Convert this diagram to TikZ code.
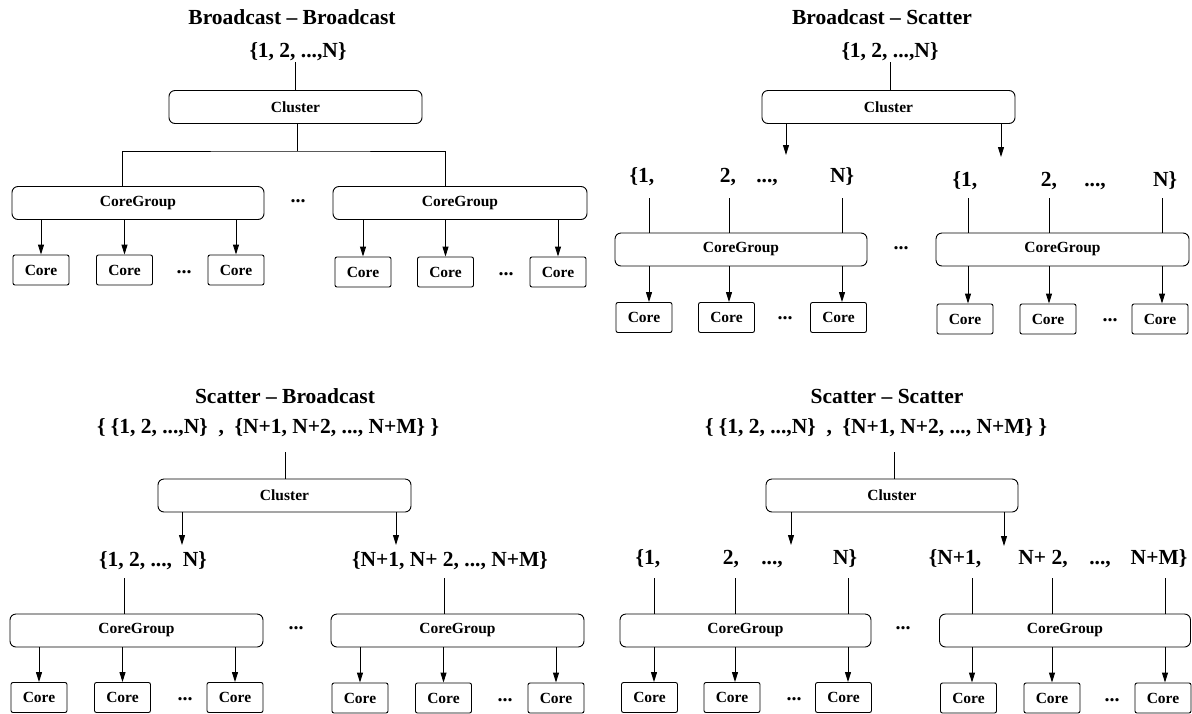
\documentclass[tikz,border=0pt]{standalone}
\usepackage{fontspec}
\setmainfont{Liberation Serif}
\usetikzlibrary{arrows.meta}
\begin{document}
\begin{tikzpicture}[x=1pt,y=-1pt,line width=0.9pt,
  big/.style={font=\fontsize{21.5}{25}\selectfont\bfseries, inner sep=0pt, anchor=base},
  small/.style={font=\fontsize{15.5}{18}\selectfont\bfseries},
  grp/.style={draw, rounded corners=6pt, minimum height=33pt, small, inner sep=0pt},
  corebox/.style={draw, rounded corners=2pt, minimum width=56pt, minimum height=30pt, small, inner sep=0pt},
  dots/.style={font=\fontsize{20}{22}\selectfont\bfseries, inner sep=0pt},
  arr/.style={-{Triangle[length=10pt,width=6pt]}}]
\useasboundingbox (0,0) rectangle (1192,713);

% ================= Panel 1: Broadcast - Broadcast =================
\node[big] (t1) at (292,24) {Broadcast -- Broadcast};
\node[big] (s1) at (298,57) {\{1, 2, ...,N\}};
\node[grp, minimum width=253pt] (cl1) at (295.5,107) {Cluster};
\node[grp, minimum width=252pt] (cg11) at (138,203) {CoreGroup};
\node[grp, minimum width=254pt] (cg12) at (460,203) {CoreGroup};
\node[dots] (d1) at (298,201) {...};
\draw (cl1.north) -- ++(0,-28);
\coordinate (j1) at (297,151);
\draw (cl1.south -| j1) -- (j1);
\draw (cg11.north -| 122,0) |- (j1) -| (cg12.north -| 445,0);
\node[corebox] (c11) at (41,270) {Core};
\node[corebox] (c12) at (124.5,270) {Core};
\node[corebox] (c13) at (236,270) {Core};
\node[corebox] (c14) at (363,272) {Core};
\node[corebox] (c15) at (445.5,272) {Core};
\node[corebox] (c16) at (558,272) {Core};
\node[dots] (d11) at (184,272) {...};
\node[dots] (d12) at (506,274) {...};
\foreach \c/\g in {c11/cg11,c12/cg11,c13/cg11,c14/cg12,c15/cg12,c16/cg12}
  \draw[arr] (\g.south -| \c.north) -- (\c.north);

% ================= Panel 2: Broadcast - Scatter =================
\node[big] (t2) at (882,24) {Broadcast -- Scatter};
\node[big] (s2) at (890,57) {\{1, 2, ...,N\}};
\node[grp, minimum width=253pt] (cl2) at (888.5,107) {Cluster};
\draw (cl2.north -| 890,0) -- ++(0,-28);
\coordinate (a21) at (786,155);
\coordinate (a22) at (1001,157);
\draw[arr] (cl2.south -| a21) -- (a21);
\draw[arr] (cl2.south -| a22) -- (a22);
\node[big] (l21) at (642,182) {\{1,};
\node[big] (l22) at (728,182) {2,};
\node[big] (l23) at (767,182) {...,};
\node[big] (l24) at (842,182) {N\}};
\node[big] (l25) at (965,186) {\{1,};
\node[big] (l26) at (1049,186) {2,};
\node[big] (l27) at (1095,186) {...,};
\node[big] (l28) at (1165,186) {N\}};
\node[grp, minimum width=252pt] (cg21) at (741,249.5) {CoreGroup};
\node[grp, minimum width=253pt] (cg22) at (1062.5,249.5) {CoreGroup};
\node[dots] (d2) at (901,248) {...};
\node[corebox] (c21) at (644,317.5) {Core};
\node[corebox] (c22) at (726.5,317.5) {Core};
\node[corebox] (c23) at (838.5,317.5) {Core};
\node[corebox] (c24) at (965,319) {Core};
\node[corebox] (c25) at (1048,319) {Core};
\node[corebox] (c26) at (1160,319) {Core};
\node[dots] (d21) at (785,318) {...};
\node[dots] (d22) at (1110,320) {...};
\foreach \x/\g/\c in {649/cg21/c21,729/cg21/c22,842/cg21/c23,968/cg22/c24,1049/cg22/c25,1162/cg22/c26}{
  \draw (\g.north -| \x,0) -- ++(0,-35);
  \draw[arr] (\g.south -| \x,0) -- (\c.north -| \x,0);
}

% ================= Panel 3: Scatter - Broadcast =================
\node[big] (t3) at (285,403) {Scatter -- Broadcast};
\node[big] (s3) at (268,433) {\{ \{1, 2, ...,N\}\ \ ,\ \ \{N+1, N+2, ..., N+M\} \}};
\node[grp, minimum width=253pt] (cl3) at (284.5,495.5) {Cluster};
\draw (cl3.north -| 285,0) -- ++(0,-27);
\coordinate (a31) at (182,545);
\coordinate (a32) at (396,545);
\draw[arr] (cl3.south -| a31) -- (a31);
\draw[arr] (cl3.south -| a32) -- (a32);
\node[big] (l31) at (153,566) {\{1, 2, ...,\ \ N\}};
\node[big] (l32) at (450,566) {\{N+1, N+ 2, ..., N+M\}};
\node[grp, minimum width=253pt] (cg31) at (136.5,630.5) {CoreGroup};
\node[grp, minimum width=253pt] (cg32) at (457.5,630.5) {CoreGroup};
\node[dots] (d3) at (296,628) {...};
\draw (cg31.north -| 124,0) -- ++(0,-36);
\draw (cg32.north -| 444,0) -- ++(0,-36);
\node[corebox] (c31) at (39,697.5) {Core};
\node[corebox] (c32) at (122.5,697.5) {Core};
\node[corebox] (c33) at (235,697.5) {Core};
\node[corebox] (c34) at (360,698) {Core};
\node[corebox] (c35) at (443.5,698) {Core};
\node[corebox] (c36) at (556,698) {Core};
\node[dots] (d31) at (185,699) {...};
\node[dots] (d32) at (505,700) {...};
\foreach \c/\g in {c31/cg31,c32/cg31,c33/cg31,c34/cg32,c35/cg32,c36/cg32}
  \draw[arr] (\g.south -| \c.north) -- (\c.north);

% ================= Panel 4: Scatter - Scatter =================
\node[big] (t4) at (887,403) {Scatter -- Scatter};
\node[big] (s4) at (876,433) {\{ \{1, 2, ...,N\}\ \ ,\ \ \{N+1, N+2, ..., N+M\} \}};
\node[grp, minimum width=252pt] (cl4) at (892,495.5) {Cluster};
\draw (cl4.north -| 894,0) -- ++(0,-27);
\coordinate (a41) at (791,545);
\coordinate (a42) at (1004,546);
\draw[arr] (cl4.south -| a41) -- (a41);
\draw[arr] (cl4.south -| a42) -- (a42);
\node[big] (l41) at (648,564) {\{1,};
\node[big] (l42) at (731,564) {2,};
\node[big] (l43) at (772,564) {...,};
\node[big] (l44) at (845,564) {N\}};
\node[big] (l45) at (955,564) {\{N+1,};
\node[big] (l46) at (1043,564) {N+ 2,};
\node[big] (l47) at (1100,564) {...,};
\node[big] (l48) at (1159,564) {N+M\}};
\node[grp, minimum width=251pt] (cg41) at (745.5,630.5) {CoreGroup};
\node[grp, minimum width=251pt] (cg42) at (1065,630.5) {CoreGroup};
\node[dots] (d4) at (903,628) {...};
\node[corebox] (c41) at (649.5,697.5) {Core};
\node[corebox] (c42) at (732,697.5) {Core};
\node[corebox] (c43) at (843.5,697.5) {Core};
\node[corebox] (c44) at (968.5,698) {Core};
\node[corebox] (c45) at (1052,698) {Core};
\node[corebox] (c46) at (1163,698) {Core};
\node[dots] (d41) at (794,699) {...};
\node[dots] (d42) at (1112,700) {...};
\foreach \x/\g/\c in {654/cg41/c41,735/cg41/c42,848/cg41/c43,972/cg42/c44,1052/cg42/c45,1165/cg42/c46}{
  \draw (\g.north -| \x,0) -- ++(0,-36);
  \draw[arr] (\g.south -| \x,0) -- (\c.north -| \x,0);
}
\end{tikzpicture}
\end{document}
